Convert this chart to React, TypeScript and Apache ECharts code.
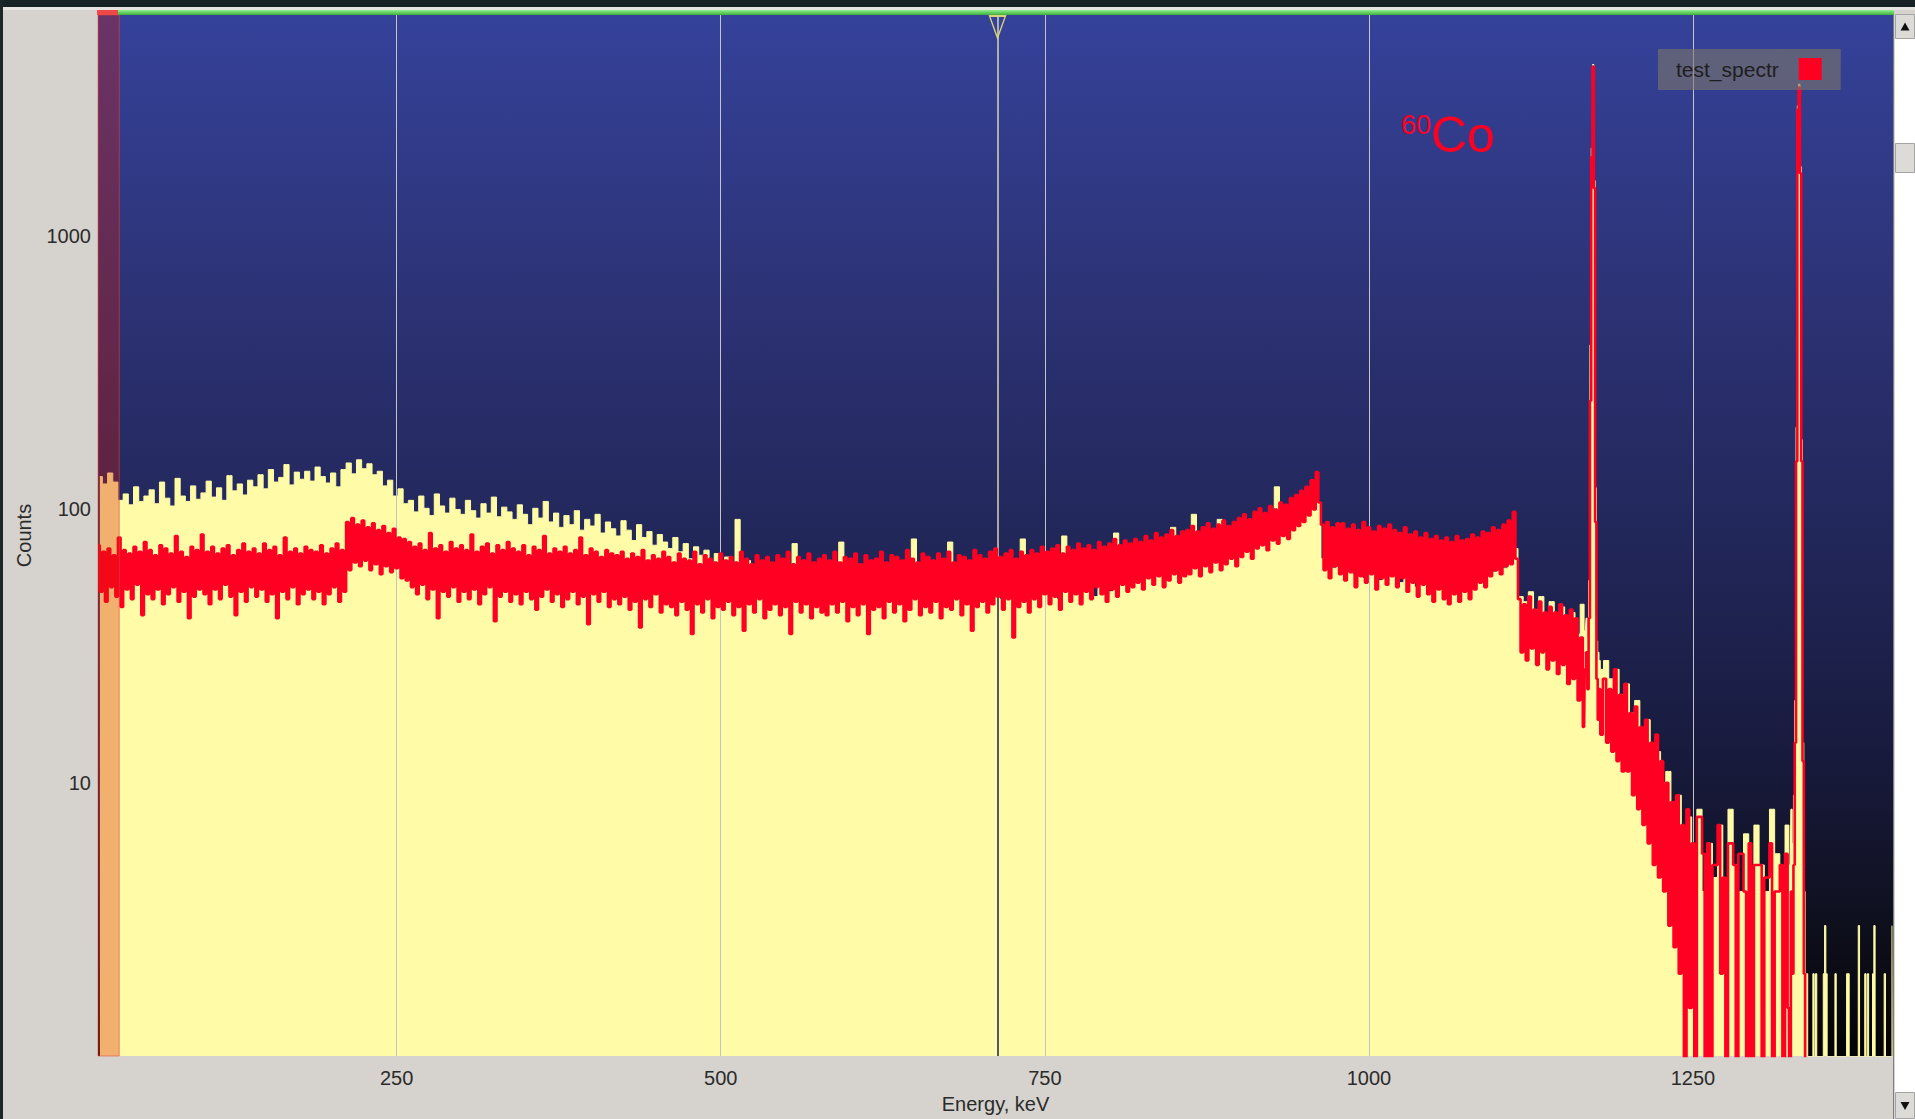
import React, { useEffect, useRef } from "react";
import * as echarts from "echarts";

// ---------- data ----------
const energyTicks = [250, 500, 750, 1000, 1250];
const countTicks = [10, 100, 1000];
const X_MIN = 19.6;
const X_MAX = 1404.3;
const Y_MIN = 1;
const Y_MAX = 6450;
const cursorKeV = 713.5;
const bandKeV = [19.6, 36];

// main region: bins centred at 21 keV .. 1165 keV, 4 keV per bin
const mainStart = 21;
const mainStep = 4;
// test_spectr: highest and lowest channel inside each 4 keV bin
const testHigh = [
  74, 70, 72, 68, 79, 71, 69, 73, 70, 76,
  71, 68, 74, 72, 69, 80, 70, 67, 73, 71,
  81, 70, 73, 69, 72, 74, 68, 71, 75, 70,
  72, 69, 75, 71, 73, 68, 79, 70, 72, 69,
  73, 71, 70, 74, 69, 72, 75, 71, 90, 93,
  88, 91, 86, 89, 84, 87, 82, 85, 79, 78,
  76, 73, 75, 71, 82, 72, 74, 70, 76, 72,
  74, 71, 81, 70, 73, 75, 69, 74, 71, 76,
  72, 70, 74, 68, 73, 71, 80, 69, 72, 70,
  73, 69, 71, 79, 68, 72, 70, 67, 71, 69,
  68, 70, 66, 69, 67, 71, 65, 68, 66, 70,
  67, 64, 69, 66, 65, 70, 63, 68, 66, 64,
  69, 65, 67, 64, 70, 66, 63, 68, 65, 67,
  64, 68, 66, 70, 63, 67, 65, 69, 64, 66,
  68, 65, 70, 64, 67, 66, 69, 63, 68, 65,
  66, 70, 64, 68, 67, 65, 71, 66, 64, 69,
  67, 65, 69, 66, 70, 64, 68, 67, 65, 71,
  68, 66, 70, 72, 67, 69, 71, 66, 70, 68,
  71, 69, 73, 70, 72, 74, 69, 73, 71, 75,
  72, 74, 71, 76, 73, 75, 78, 74, 77, 75,
  78, 76, 80, 77, 82, 79, 81, 84, 80, 83,
  84, 87, 83, 86, 89, 85, 88, 91, 87, 90,
  93, 96, 92, 98, 101, 97, 103, 100, 106, 104,
  110, 113, 117, 121, 128, 137, 88, 90, 86, 89,
  89, 85, 88, 84, 90, 86, 83, 87, 85, 88,
  84, 82, 86, 81, 83, 79, 82, 78, 80, 77,
  79, 76, 80, 77, 78, 81, 79, 83, 82, 86,
  84, 88, 91, 98, 47, 45, 48, 43, 46, 42,
  44, 42, 45, 41, 43, 40, 34,
];
const testLow = [
  50, 46, 52, 48, 44, 51, 47, 53, 41, 49,
  47, 51, 45, 49, 52, 46, 50, 40, 48, 51,
  49, 45, 51, 47, 53, 48, 41, 50, 46, 52,
  48, 51, 46, 49, 40, 50, 47, 52, 45, 49,
  51, 47, 50, 45, 49, 52, 46, 50, 60, 64,
  62, 65, 60, 63, 58, 62, 59, 61, 56, 55,
  52, 49, 53, 47, 51, 40, 50, 48, 52, 46,
  50, 47, 51, 45, 49, 52, 39, 48, 50, 46,
  49, 45, 50, 47, 43, 48, 51, 46, 49, 44,
  47, 50, 45, 48, 38, 49, 46, 50, 44, 47,
  45, 48, 43, 46, 37, 47, 44, 49, 42, 45,
  44, 41, 46, 43, 35, 45, 42, 47, 40, 44,
  43, 46, 41, 44, 36, 45, 42, 47, 40, 43,
  45, 41, 44, 35, 46, 42, 45, 40, 44, 42,
  41, 45, 42, 46, 39, 44, 41, 45, 35, 43,
  44, 40, 46, 42, 45, 39, 43, 47, 41, 44,
  42, 46, 40, 44, 43, 47, 41, 45, 36, 44,
  46, 42, 45, 48, 43, 47, 34, 44, 46, 42,
  47, 44, 49, 45, 48, 43, 50, 46, 49, 45,
  50, 47, 52, 49, 46, 51, 48, 53, 50, 52,
  54, 51, 56, 53, 57, 52, 55, 58, 54, 57,
  58, 61, 57, 62, 59, 64, 60, 63, 66, 62,
  67, 70, 66, 72, 74, 71, 77, 75, 80, 78,
  84, 87, 90, 95, 100, 106, 60, 56, 62, 58,
  55, 59, 52, 57, 54, 58, 51, 56, 53, 57,
  52, 56, 50, 54, 48, 53, 49, 46, 51, 47,
  45, 49, 46, 50, 47, 51, 54, 52, 57, 60,
  58, 62, 63, 66, 30, 28, 31, 27, 30, 26,
  28, 25, 27, 23, 24, 20, 16,
];
// background spectrum (filled), one value per 4 keV bin
const refMain = [
  132, 124, 136, 126, 108, 114, 104, 121, 107, 112,
  118, 105, 126, 110, 103, 130, 112, 107, 122, 109,
  115, 127, 111, 120, 108, 133, 117, 124, 113, 128,
  121, 134, 119, 140, 126, 131, 146, 123, 137, 129,
  138, 127, 143, 132, 125, 136, 121, 140, 148, 135,
  152, 141, 147, 134, 138, 122, 128, 112, 119, 105,
  108, 98, 112, 101, 95, 114, 103, 97, 110, 100,
  96, 108, 99, 93, 105, 97, 111, 94, 102, 98,
  92, 104, 96, 88, 101, 93, 107, 90, 97, 86,
  95, 88, 99, 84, 92, 87, 96, 82, 90, 85,
  80, 91, 84, 77, 88, 79, 83, 74, 81, 76,
  72, 79, 70, 75, 66, 73, 68, 71, 64, 69,
  62, 67, 60, 92, 58, 65, 53, 61, 57, 64,
  55, 63, 51, 60, 75, 54, 59, 48, 62, 56,
  61, 52, 58, 76, 50, 57, 63, 53, 59, 55,
  64, 51, 57, 60, 49, 62, 55, 78, 52, 58,
  54, 61, 50, 59, 76, 53, 57, 48, 63, 55,
  58, 50, 62, 54, 47, 60, 56, 52, 78, 51,
  55, 49, 60, 53, 58, 47, 80, 54, 51, 59,
  52, 57, 48, 61, 55, 50, 82, 53, 58, 56,
  60, 55, 63, 58, 66, 57, 62, 86, 59, 64,
  61, 96, 63, 72, 65, 69, 92, 66, 71, 77,
  73, 79, 75, 84, 78, 87, 82, 121, 85, 92,
  96, 91, 100, 95, 103, 106, 66, 63, 61, 67,
  60, 64, 58, 62, 56, 61, 59, 55, 63, 57,
  60, 54, 58, 56, 52, 59, 55, 51, 57, 53,
  55, 50, 57, 53, 60, 52, 58, 56, 62, 59,
  64, 61, 68, 72, 48, 46, 50, 43, 48, 41,
  46, 40, 44, 37, 42, 35, 45,
];

// 1173 keV peak: 1167 .. 1179 keV, 1 keV per bin
const peak1Start = 1167;
const testPeak1 = [26, 30, 22, 40, 250, 1950, 4180, 1500, 90, 24, 17, 22, 15];
const refPeak1 = [36, 40, 34, 55, 400, 2100, 4250, 1600, 120, 33, 30, 28, 26];

// fall-off: bins centred at 1183 .. 1323 keV, 4 keV per bin
const midStart = 1183;
const testMidHigh = [
  24, 22, 26, 21, 23, 18, 19, 16, 17, 14,
  15, 12, 10, 8.5, 9, 7, 8, 6, 7.5, 5.5,
  6, 5, 7, 4.5, 6, 5, 5.5, 4, 6, 5,
  5, 4.5, 6, 4, 5, 5.5,
];
const testMidLow = [
  14, 13, 12, 11, 11, 9, 8, 7, 6, 5,
  4.5, 4, 3, 2.5, 2, 0, 1.5, 0, 7.5, 0,
  0, 5, 2, 0, 6, 0, 5.5, 0, 0, 5,
  0, 4.5, 0, 4, 0, 1.5,
];
const refMid = [
  28, 24, 26, 21, 23, 18, 20, 15, 17, 12,
  13, 10, 11, 8, 9, 6.5, 7.5, 5, 8, 4,
  6, 4.5, 7, 4, 8, 5, 4, 6.5, 4.5, 7,
  5, 4, 8, 5.5, 4.2, 7,
];

// 1332 keV peak and tail: 1325 .. 1404 keV, 1 keV per bin
const tailStart = 1325;
const testTail = [0, 4, 2, 5, 14, 150, 2900, 3500, 1700, 150, 12, 2, 0];
const refTail = [
  5, 8, 6, 9, 20, 200, 3000, 3600, 1800, 180, 14, 4, 0, 2, 0, 0, 0, 0, 2, 0,
  2, 0, 0, 0, 0, 0, 2, 3, 2, 0, 0, 0, 0, 0, 0, 2, 0, 0, 0, 0,
  0, 0, 0, 0, 2, 2, 0, 0, 0, 0, 0, 0, 0, 3, 0, 0, 0, 0, 2, 0,
  2, 0, 0, 0, 2, 3, 0, 0, 0, 0, 0, 0, 0, 2, 0, 0, 0, 0, 0, 3,
];

// ---------- styling ----------
const FONT = '"Liberation Sans", Arial, sans-serif';
const RED = "#ff0022";
const YELLOW = "#fffba6";
const PAGE_BG = "#d6d3ce";
const TEXT = "#2b2b2b";
const ZERO_FLOOR = 0.5; // empty bins drawn below the log axis floor

const fl = (v: number) => (v > 0 ? v : ZERO_FLOOR);
const seg = (start: number, step: number, vals: number[]) =>
  vals.map((v, i) => [start + step * i, fl(v)]);
// each bin drawn as its highest channel followed by its lowest channel
const zig = (start: number, step: number, hi: number[], lo: number[]) =>
  hi.flatMap((h, i) => [
    [start + step * i - step / 4, fl(h)],
    [start + step * i + step / 4, fl(lo[i])],
  ]);

const refData = [
  ...seg(mainStart, mainStep, refMain),
  ...seg(peak1Start, 1, refPeak1),
  ...seg(midStart, mainStep, refMid),
  ...seg(tailStart, 1, refTail),
];
const testData = [
  ...zig(mainStart, mainStep, testHigh, testLow),
  ...seg(peak1Start, 1, testPeak1),
  ...zig(midStart, mainStep, testMidHigh, testMidLow),
  ...seg(tailStart, 1, testTail),
];

function refAt(keV: number): number {
  let best = refData[0];
  for (const p of refData) {
    if (Math.abs(p[0] - keV) < Math.abs(best[0] - keV)) best = p;
  }
  return best[1];
}

export default function App() {
  const ref = useRef<HTMLDivElement>(null);
  useEffect(() => {
    if (!ref.current) return;
    const chart = echarts.init(ref.current, null, { renderer: "svg" });
    const cursorTop = refAt(cursorKeV);
    const option: any = {
      animation: false,
      backgroundColor: PAGE_BG,
      textStyle: { fontFamily: FONT },
      grid: {
        left: 98,
        top: 15,
        right: 22,
        bottom: 59,
        show: true,
        borderWidth: 0,
        backgroundColor: {
          type: "linear",
          x: 0,
          y: 0,
          x2: 0,
          y2: 1,
          colorStops: [
            { offset: 0, color: "#35429a" },
            { offset: 0.28, color: "#2c3274" },
            { offset: 0.5, color: "#22275a" },
            { offset: 0.72, color: "#181a3c" },
            { offset: 0.87, color: "#0f101e" },
            { offset: 1, color: "#030306" },
          ],
        },
      },
      legend: {
        data: ["test_spectr"],
        left: 1658,
        top: 49,
        padding: [9, 19, 10, 18],
        backgroundColor: "rgba(125,118,105,0.6)",
        itemWidth: 23,
        itemHeight: 22,
        icon: "rect",
        align: "right",
        selectedMode: false,
        textStyle: {
          fontSize: 21,
          color: "#1e1e1e",
          fontFamily: FONT,
          padding: [0, 15, 0, 0],
        },
      },
      xAxis: {
        type: "value",
        min: X_MIN,
        max: X_MAX,
        z: 2.5,
        name: "Energy, keV",
        nameLocation: "middle",
        nameGap: 38,
        nameTextStyle: { fontSize: 20, color: TEXT, fontFamily: FONT },
        axisLine: { show: false },
        axisTick: { show: false, customValues: energyTicks },
        axisLabel: {
          customValues: energyTicks,
          fontSize: 20,
          color: TEXT,
          margin: 12,
          fontFamily: FONT,
          formatter: (v: number) => String(v),
        },
        splitLine: { show: true, lineStyle: { color: "#c4c4c8", width: 1 } },
      },
      yAxis: {
        type: "log",
        logBase: 10,
        min: Y_MIN,
        max: Y_MAX,
        name: "Counts",
        nameLocation: "middle",
        nameGap: 64,
        nameTextStyle: { fontSize: 20, color: TEXT, fontFamily: FONT },
        axisLine: { show: false },
        axisTick: { show: false },
        splitLine: { show: false },
        axisLabel: {
          fontSize: 20,
          color: TEXT,
          margin: 7,
          fontFamily: FONT,
          formatter: (v: number) => {
            const r = Math.round(v);
            return countTicks.indexOf(r) >= 0 && Math.abs(v - r) < 1e-6 ? String(r) : "";
          },
        },
      },
      series: [
        {
          name: "background",
          type: "line",
          step: "middle",
          data: refData,
          symbol: "none",
          silent: true,
          z: 2,
          lineStyle: { color: YELLOW, width: 1 },
          itemStyle: { color: YELLOW },
          areaStyle: { color: YELLOW, opacity: 1, origin: "start" },
          markLine: {
            silent: true,
            z: 2.7,
            symbol: ["none", "none"],
            label: { show: false },
            data: [
              [
                { coord: [cursorKeV, Y_MIN], lineStyle: { color: "#1a1f52", width: 1.5, type: "solid" } },
                { coord: [cursorKeV, cursorTop] },
              ],
              [
                { coord: [cursorKeV, cursorTop], lineStyle: { color: "#d6d4b4", width: 1.5, type: "solid" } },
                { coord: [cursorKeV, Y_MAX] },
              ],
            ],
          },
        },
        {
          name: "test_spectr",
          type: "line",
          step: "middle",
          data: testData,
          symbol: "none",
          z: 3,
          lineStyle: { color: RED, width: 2.6 },
          itemStyle: { color: RED },
          markArea: {
            silent: true,
            z: 10,
            itemStyle: {
              color: "rgba(215,25,0,0.33)",
              borderColor: "rgba(230,70,70,0.55)",
              borderWidth: 1,
            },
            data: [[{ xAxis: bandKeV[0] }, { xAxis: bandKeV[1] }]],
          },
          markPoint: {
            silent: true,
            z: 10,
            symbol: "triangle",
            symbolRotate: 180,
            symbolSize: [16, 22],
            symbolOffset: [0, 12],
            itemStyle: { color: "rgba(0,0,0,0)", borderColor: "#d9d27a", borderWidth: 1.5 },
            label: { show: false },
            data: [{ coord: [cursorKeV, Y_MAX] }],
          },
        },
      ],
      graphic: [
        { type: "rect", z: 100, shape: { x: 0, y: 0, width: 1915, height: 7 }, style: { fill: "#162224" } },
        { type: "rect", z: 100, shape: { x: 0, y: 0, width: 3, height: 1119 }, style: { fill: "#1b2729" } },
        { type: "rect", z: 100, shape: { x: 3, y: 7, width: 1912, height: 3 }, style: { fill: "#e6e4e0" } },
        {
          type: "rect",
          z: 100,
          shape: { x: 118, y: 10, width: 1776, height: 5 },
          style: {
            fill: {
              type: "linear", x: 0, y: 0, x2: 0, y2: 1,
              colorStops: [
                { offset: 0, color: "#8ef08a" },
                { offset: 1, color: "#3fae3f" },
              ],
            },
          },
        },
        { type: "rect", z: 100, shape: { x: 97, y: 10, width: 21, height: 5 }, style: { fill: "#ee4848" } },
        // scrollbar
        { type: "rect", z: 100, shape: { x: 1893, y: 15, width: 1.5, height: 1104 }, style: { fill: "#7e7e7e" } },
        { type: "rect", z: 100, shape: { x: 1894.5, y: 15, width: 20.5, height: 1104 }, style: { fill: "#ffffff" } },
        { type: "rect", z: 100, shape: { x: 1895.5, y: 14.5, width: 19, height: 24 }, style: { fill: "#dddbd7", stroke: "#a4a4a4", lineWidth: 1 } },
        { type: "polygon", z: 101, shape: { points: [[1905, 22.5], [1900.5, 30.5], [1909.5, 30.5]] }, style: { fill: "#111" } },
        { type: "rect", z: 100, shape: { x: 1895.5, y: 143.5, width: 19, height: 29 }, style: { fill: "#dddbd7", stroke: "#a4a4a4", lineWidth: 1 } },
        { type: "rect", z: 100, shape: { x: 1895.5, y: 1092.5, width: 19, height: 26 }, style: { fill: "#dddbd7", stroke: "#a4a4a4", lineWidth: 1 } },
        { type: "polygon", z: 101, shape: { points: [[1900.5, 1102], [1909.5, 1102], [1905, 1110]] }, style: { fill: "#111" } },
        // 60Co label
        { type: "text", z: 100, left: 1401, top: 111, style: { text: "60", fontSize: 27, fill: RED, fontFamily: FONT } },
        { type: "text", z: 100, left: 1431, top: 110, style: { text: "Co", fontSize: 50, fill: RED, fontFamily: FONT } },
      ],
    };
    chart.setOption(option);
    return () => chart.dispose();
  }, []);
  return (
    <div
      ref={ref}
      style={{ position: "absolute", left: 0, top: 0, width: 1915, height: 1119 }}
    />
  );
}
